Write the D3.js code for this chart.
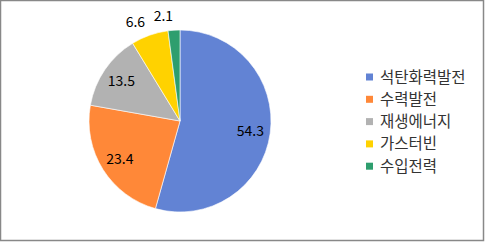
<!DOCTYPE html>
<html>
<head>
<meta charset="utf-8">
<script src="https://cdn.jsdelivr.net/npm/d3@7"></script>
<style>
  body { margin: 0; background: #fff; }
  svg { display: block; font-family: "Noto Sans CJK KR", "Noto Sans", sans-serif; }
</style>
</head>
<body>
<svg id="chart" width="485" height="242"></svg>
<script>
// values
const categories = ['석탄화력발전', '수력발전', '재생에너지', '가스터빈', '수입전력'];
const values = [54.3, 23.4, 13.5, 6.6, 2.1];
const colors = ['#6283d4', '#ff8838', '#b2b2b2', '#ffd200', '#2e9e6e'];

const width = 485, height = 242;
const cx = 180, cy = 121, radius = 91;

const svg = d3.select('#chart');

// chart frame
svg.append('rect')
    .attr('x', 0.5).attr('y', 0.5)
    .attr('width', width - 2).attr('height', height - 2)
    .attr('fill', '#fff')
    .attr('stroke', '#888')
    .attr('stroke-width', 1.5);

const data = categories.map((c, i) => ({ name: c, value: values[i], color: colors[i] }));

const pie = d3.pie().sort(null).value(d => d.value);
const arcs = pie(data);

const arc = d3.arc().innerRadius(0).outerRadius(radius);
const labelArc = d3.arc().innerRadius(radius * 0.78).outerRadius(radius * 0.78);
const outerArc = d3.arc().innerRadius(radius * 1.15).outerRadius(radius * 1.15);

const g = svg.append('g').attr('transform', `translate(${cx},${cy})`);

g.selectAll('path.slice')
    .data(arcs)
    .enter()
    .append('path')
    .classed('slice', true)
    .attr('d', arc)
    .attr('fill', d => d.data.color)
    .attr('stroke', '#fff')
    .attr('stroke-width', 0.6);

// data labels: big slices inside, small ones outside
g.selectAll('text.label')
    .data(arcs)
    .enter()
    .append('text')
    .classed('label', true)
    .attr('transform', function (d) {
        const p = d.data.value >= 10 ? labelArc.centroid(d) : outerArc.centroid(d);
        return `translate(${p[0]},${p[1]})`;
    })
    .attr('text-anchor', d => d.data.value >= 10 ? 'middle' : 'end')
    .attr('dy', '0.35em')
    .attr('font-size', 14)
    .attr('fill', '#000')
    .text(d => d.data.value.toFixed(1));

// legend
const legend = svg.append('g').attr('transform', 'translate(366,77)');
const rows = legend.selectAll('g')
    .data(data)
    .enter()
    .append('g')
    .attr('transform', (d, i) => `translate(0,${i * 22.3})`);
rows.append('rect')
    .attr('x', 0).attr('y', -3.5)
    .attr('width', 7).attr('height', 7)
    .attr('fill', d => d.color);
rows.append('text')
    .attr('x', 14)
    .attr('dy', '0.36em')
    .attr('font-size', 15.5)
    .attr('fill', '#333')
    .text(d => d.name);
</script>
</body>
</html>
